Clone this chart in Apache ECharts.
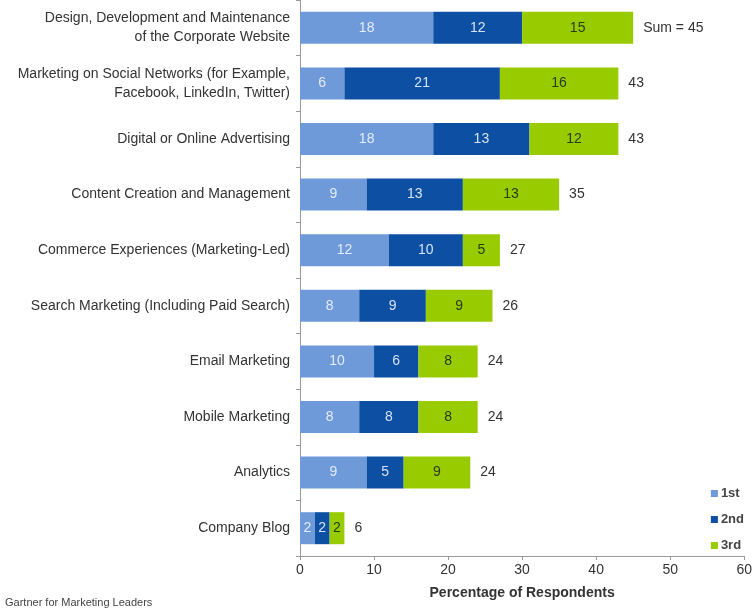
<!DOCTYPE html>
<html>
<head>
<meta charset="utf-8">
<script src="https://cdn.jsdelivr.net/npm/echarts@6/dist/echarts.min.js"></script>
<style>html,body{margin:0;padding:0;background:#fff;}#c{width:755px;height:612px;}</style>
</head>
<body>
<div id="c"></div>
<script>
var categories = [
  "Design, Development and Maintenance\nof the Corporate Website",
  "Marketing on Social Networks (for Example,\nFacebook, LinkedIn, Twitter)",
  "Digital or Online Advertising",
  "Content Creation and Management",
  "Commerce Experiences (Marketing-Led)",
  "Search Marketing (Including Paid Search)",
  "Email Marketing",
  "Mobile Marketing",
  "Analytics",
  "Company Blog"
];
var first  = [18, 6, 18, 9, 12, 8, 10, 8, 9, 2];
var second = [12, 21, 13, 13, 10, 9, 6, 8, 5, 2];
var third  = [15, 16, 12, 13, 5, 9, 8, 8, 9, 2];
var totals = [45, 43, 43, 35, 27, 26, 24, 24, 24, 6];
var totalLabels = ["Sum = 45", "43", "43", "35", "27", "26", "24", "24", "24", "6"];
var xTicks = [0, 10, 20, 30, 40, 50, 60];

var font = "Liberation Sans, Arial, sans-serif";
var chart = echarts.init(document.getElementById('c'));
var zeros = categories.map(function(){return 0;});
chart.setOption({
  animation: false,
  textStyle: {fontFamily: font},
  grid: {left: 300, right: 10, top: 0, bottom: 56, containLabel: false},
  legend: {
    orient: 'vertical', right: 6, top: 482, itemGap: 13,
    itemWidth: 7, itemHeight: 7, icon: 'rect',
    data: ['1st', '2nd', '3rd'],
    textStyle: {fontFamily: font, fontSize: 13, color: '#444', fontWeight: 'bold', padding: [0,0,0,-2]}
  },
  xAxis: {
    type: 'value', min: xTicks[0], max: xTicks[xTicks.length-1], interval: 10,
    name: 'Percentage of Respondents', nameLocation: 'middle', nameGap: 30,
    nameTextStyle: {fontFamily: font, fontSize: 14, fontWeight: 'bold', color: '#333'},
    axisLine: {show: true, lineStyle: {color: '#999'}},
    axisTick: {show: true, length: 4, lineStyle: {color: '#999'}},
    axisLabel: {fontFamily: font, fontSize: 14, color: '#333', margin: 7},
    splitLine: {show: false}
  },
  yAxis: {
    type: 'category', inverse: true, data: categories,
    axisLine: {show: true, lineStyle: {color: '#999'}},
    axisTick: {show: true, length: 4, lineStyle: {color: '#999'}},
    axisLabel: {fontFamily: font, fontSize: 14, color: '#333', margin: 10, align: 'right', lineHeight: 19}
  },
  series: [
    {name: '1st', type: 'bar', stack: 's', barWidth: 32, data: first,
     itemStyle: {color: '#6f9ad9'},
     label: {show: true, position: 'inside', fontFamily: font, fontSize: 14, color: '#e3ecf9'}},
    {name: '2nd', type: 'bar', stack: 's', barWidth: 32, data: second,
     itemStyle: {color: '#0c4fa3'},
     label: {show: true, position: 'inside', fontFamily: font, fontSize: 14, color: '#d6e3f5'}},
    {name: '3rd', type: 'bar', stack: 's', barWidth: 32, data: third,
     itemStyle: {color: '#99cc00'},
     label: {show: true, position: 'inside', fontFamily: font, fontSize: 14, color: '#2a3a10'}},
    {name: 'Sum', type: 'bar', stack: 's', barWidth: 32, data: zeros, silent: true,
     itemStyle: {color: 'transparent'},
     label: {show: true, position: 'right', distance: 10, fontFamily: font, fontSize: 14, color: '#333',
       formatter: function(p){ return totalLabels[p.dataIndex]; }}}
  ],
  graphic: [
    {type: 'text', left: 5, top: 597, style: {text: 'Gartner for Marketing Leaders', fontFamily: font, fontSize: 11, fill: '#444'}}
  ]
});
</script>
</body>
</html>
